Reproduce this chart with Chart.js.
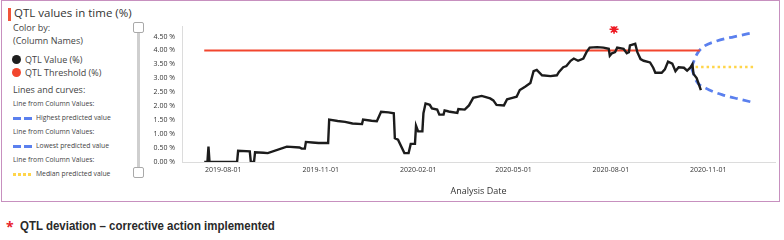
<!DOCTYPE html>
<html>
<head>
<meta charset="utf-8">
<script src="https://cdn.jsdelivr.net/npm/chart.js@4.4.1/dist/chart.umd.min.js"></script>
<style>
  body { margin: 0; width: 784px; height: 240px; background: #fff; position: relative; overflow: hidden;
         font-family: "Open Sans", "Noto Sans", sans-serif; color: #3a3a3a; }
  .frame { position: absolute; left: 1px; top: 0; width: 777px; height: 200px; border: 1.5px solid #c790bf; }
  .t { position: absolute; white-space: nowrap; line-height: 1; }
  .title { left: 14px; top: 7px; font-size: 11.5px; color: #333; }
  .bar { position: absolute; left: 8px; top: 8px; width: 3px; height: 13px; background: #f0553a; }
  .lg { font-size: 9px; color: #444; }
  .sm { font-size: 6.8px; color: #444; }
  .dot { position: absolute; width: 9px; height: 9px; border-radius: 50%; }
  .dash { position: absolute; height: 2.5px; width: 8px; background: #5b80ee; }
  .ydot { position: absolute; width: 2.5px; height: 2.5px; background: #ffd54a; }
  .track { position: absolute; left: 137px; top: 32px; width: 3px; height: 137px; background: #cfcfcf; }
  .handle { position: absolute; left: 133px; width: 9px; height: 9px; border: 1px solid #a9a9a9; border-radius: 2px; background: #fff; }
  #wrap { position: absolute; left: 145px; top: 15px; width: 640px; height: 185px; }
  .foot { position: absolute; left: 20px; top: 219px; font-family: "Liberation Sans", sans-serif;
          font-weight: bold; font-size: 13.5px; color: #2a2a2a; line-height: 1;
          white-space: nowrap; transform: scaleX(0.85); transform-origin: left top; }
  .fstar { position: absolute; left: 6px; top: 220px; color: #e8212a; font-size: 14px; font-weight: bold; line-height: 1; }
</style>
</head>
<body>
<div class="frame"></div>
<div class="bar"></div>
<div class="t title">QTL values in time (%)</div>
<div class="t lg" style="left:13px;top:23px">Color by:</div>
<div class="t lg" style="left:13px;top:36px">(Column Names)</div>
<div class="dot" style="left:12px;top:55px;background:#1e1e1e"></div>
<div class="t lg" style="left:25px;top:55px">QTL Value (%)</div>
<div class="dot" style="left:12px;top:68px;background:#f2462e"></div>
<div class="t lg" style="left:25px;top:68px">QTL Threshold (%)</div>
<div class="t lg" style="left:13px;top:85px">Lines and curves:</div>
<div class="t sm" style="left:13px;top:101px">Line from Column Values:</div>
<div class="dash" style="left:13px;top:117px"></div><div class="dash" style="left:24px;top:117px"></div>
<div class="t sm" style="left:36px;top:115px">Highest predicted value</div>
<div class="t sm" style="left:13px;top:129px">Line from Column Values:</div>
<div class="dash" style="left:13px;top:145px"></div><div class="dash" style="left:24px;top:145px"></div>
<div class="t sm" style="left:36px;top:143px">Lowest predicted value</div>
<div class="t sm" style="left:13px;top:157px">Line from Column Values:</div>
<div class="ydot" style="left:13px;top:173px"></div><div class="ydot" style="left:18px;top:173px"></div>
<div class="ydot" style="left:23px;top:173px"></div><div class="ydot" style="left:28px;top:173px"></div>
<div class="t sm" style="left:36px;top:171px">Median predicted value</div>
<div class="track"></div>
<div class="handle" style="top:22px"></div>
<div class="handle" style="top:167px"></div>
<div id="wrap"><canvas id="qtl" width="640" height="185"></canvas></div>
<div class="fstar">*</div>
<div class="foot">QTL deviation – corrective action implemented</div>

<script>
// ===== QTL VALUES IN TIME =====
// x values are days since 2019-08-01
const baseDate = '2019-08-01';
const tickDates = ['2019-08-01', '2019-11-01', '2020-02-01', '2020-05-01', '2020-08-01', '2020-11-01'];

const valueDays = [-18, -15, -14, -13, 13, 14, 25, 26, 29, 30, 38, 42, 60, 72, 74, 77, 78, 84, 90, 99,
  100, 108, 115, 122, 131, 132, 140, 145, 149, 156, 161, 162, 165, 171, 175, 177, 181, 182, 184, 188,
  189, 191, 195, 197, 202, 204, 208, 209, 212, 214, 221, 222, 228, 232, 236, 244, 252, 255, 258, 265,
  268, 273, 277, 280, 285, 290, 293, 296, 301, 309, 315, 317, 321, 324, 328, 331, 335, 340, 343, 346,
  353, 359, 364, 365, 367, 370, 372, 378, 381, 383, 384, 389, 391, 394, 397, 403, 406, 408, 414, 417,
  420, 424, 427, 430, 435, 438, 441, 443, 444, 447, 451];
const valuePct = [0, 0, 0.55, 0, 0, 0.4, 0.38, 0, 0, 0.35, 0.33, 0.32, 0.55, 0.52, 0.48, 0.48, 0.72, 0.7, 0.68, 0.68,
  1.52, 1.47, 1.44, 1.38, 1.36, 1.52, 1.48, 1.46, 1.8, 1.78, 1.75, 0.85, 0.8, 0.32, 0.32, 0.65, 0.65, 1.3, 1.1, 1.1,
  1.75, 2.1, 2.05, 1.92, 1.88, 1.7, 1.7, 1.85, 1.82, 1.8, 1.76, 1.9, 1.88, 2.03, 2.3, 2.37, 2.28, 2.21, 2.05, 2.03,
  2.25, 2.3, 2.34, 2.58, 2.7, 2.83, 3.26, 3.3, 3.11, 3.08, 3.11, 3.23, 3.4, 3.44, 3.63, 3.71, 3.63, 3.71, 3.94, 4.1,
  4.12, 4.1, 4.06, 3.81, 3.9, 3.94, 4.1, 4.06, 3.9, 3.94, 4.18, 4.24, 3.94, 3.69, 3.63, 3.57, 3.38, 3.2, 3.2, 3.32,
  3.6, 3.53, 3.26, 3.4, 3.38, 3.28, 3.38, 3.5, 3.16, 3.01, 2.58];

const thresholdDays = [-18, 450];
const thresholdPct = [4.0, 4.0];

const highDays = [442, 447, 453, 466, 482, 501];
const highPct = [3.38, 3.85, 4.12, 4.34, 4.49, 4.64];
const lowDays = [442, 447, 456, 472, 488, 501];
const lowPct = [3.38, 2.89, 2.64, 2.4, 2.25, 2.13];
const medianDays = [446, 501];
const medianPct = [3.41, 3.41];

const deviationDays = [369];
const deviationPct = [4.76];

const dayMs = 86400000;
const base = Date.parse(baseDate);
const tickDays = tickDates.map(d => Math.round((Date.parse(d) - base) / dayMs));
const pts = (xs, ys) => xs.map((x, i) => ({ x: x, y: ys[i] }));
const fmtDay = d => new Date(base + d * dayMs).toISOString().slice(0, 10);

new Chart(document.getElementById('qtl'), {
  type: 'line',
  data: {
    datasets: [
      {
        label: 'QTL Value (%)',
        data: pts(valueDays, valuePct),
        borderColor: '#1c1c1c', borderWidth: 2.4, pointRadius: 0, tension: 0
      },
      {
        label: 'QTL deviation',
        data: pts(deviationDays, deviationPct),
        showLine: false, pointStyle: 'star', pointRadius: 4.5,
        borderColor: '#ee1c25', borderWidth: 1.6
      },
      {
        label: 'QTL Threshold (%)',
        data: pts(thresholdDays, thresholdPct),
        borderColor: '#f2462e', borderWidth: 2, pointRadius: 0
      },
      {
        label: 'Highest predicted value',
        data: pts(highDays, highPct),
        borderColor: '#5b80ee', borderWidth: 2.8, borderDash: [8, 5], pointRadius: 0,
        cubicInterpolationMode: 'monotone'
      },
      {
        label: 'Lowest predicted value',
        data: pts(lowDays, lowPct),
        borderColor: '#5b80ee', borderWidth: 2.8, borderDash: [8, 5], pointRadius: 0,
        cubicInterpolationMode: 'monotone'
      },
      {
        label: 'Median predicted value',
        data: pts(medianDays, medianPct),
        borderColor: '#ffd54a', borderWidth: 2.5, borderDash: [2.5, 3], pointRadius: 0
      }
    ]
  },
  options: {
    responsive: false,
    animation: false,
    layout: { padding: { top: 8, right: 10, left: 0, bottom: 0 } },
    plugins: { legend: { display: false }, tooltip: { enabled: false } },
    scales: {
      x: {
        type: 'linear', min: -39, max: 521,
        afterFit: s => { s.height = 38; },
        afterBuildTicks: s => { s.ticks = tickDays.map(v => ({ value: v })); },
        grid: { display: false, drawTicks: false },
        border: { color: '#dcdcdc', width: 1 },
        ticks: { padding: 4, maxRotation: 0, autoSkip: false, color: '#333',
                 font: { family: 'Open Sans', size: 7 }, callback: v => fmtDay(v) },
        title: { display: true, text: 'Analysis Date', color: '#333',
                 font: { family: 'Open Sans', size: 9 }, padding: { top: 0, bottom: 3 } }
      },
      y: {
        min: 0, max: 4.87,
        afterFit: s => { s.width = 37; },
        grid: { display: false, drawTicks: false },
        border: { color: '#dcdcdc', width: 1 },
        ticks: { stepSize: 0.5, padding: 7, color: '#333', font: { family: 'Open Sans', size: 7 },
                 callback: v => Math.abs(v * 2 - Math.round(v * 2)) < 1e-6 ? v.toFixed(2) + ' %' : '' }
      }
    }
  }
});
</script>
</body>
</html>
